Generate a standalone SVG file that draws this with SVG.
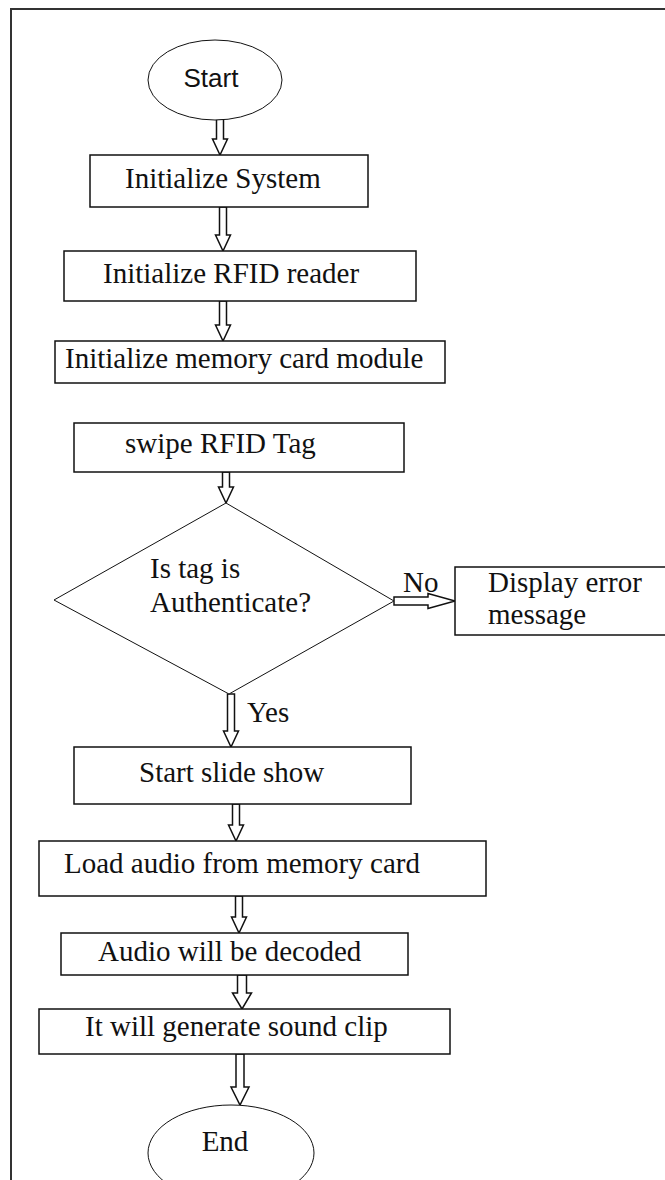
<svg xmlns="http://www.w3.org/2000/svg" width="665" height="1180" viewBox="0 0 665 1180">
<style>
.bg{fill:#fff}
.frame{fill:none;stroke:#333;stroke-width:2}
.box{fill:#fff;stroke:#111;stroke-width:1.5}
.thin{fill:#fff;stroke:#111;stroke-width:1}
.arr{fill:#fff;stroke:#111;stroke-width:1.5;stroke-linejoin:miter}
.t{font-family:"Liberation Serif","Times New Roman",serif;font-size:29px;fill:#111}
.s{font-family:"Liberation Sans",Arial,sans-serif;font-size:26px;fill:#111}
</style>
<rect class="bg" x="0" y="0" width="665" height="1180"/>
<path class="frame" d="M11,1180 V9 H665"/>
<g id="connectors">
<path class="arr" d="M216.5,119 V139 H212.5 L220,155 L227.5,139 H223.5 V119 Z"/>
<path class="arr" d="M219.5,207 V235 H215.5 L223,251 L230.5,235 H226.5 V207 Z"/>
<path class="arr" d="M219.5,301 V325 H215.5 L223,341 L230.5,325 H226.5 V301 Z"/>
<path class="arr" d="M222.5,472 V487 H218.5 L226,503 L233.5,487 H229.5 V472 Z"/>
<path class="arr" d="M394,597 H428 V593.5 L455,601 L428,608.5 V605 H394 Z"/>
<text class="t" x="403" y="592">No</text>
<path class="arr" d="M227.5,694 V731 H223.5 L231,747 L238.5,731 H234.5 V694 Z"/>
<text class="t" x="247" y="722">Yes</text>
<path class="arr" d="M232.5,804 V825 H228.5 L236,841 L243.5,825 H239.5 V804 Z"/>
<path class="arr" d="M235.5,896 V917 H231.5 L239,933 L246.5,917 H242.5 V896 Z"/>
<path class="arr" d="M237.5,975 V993 H232.5 L242,1009 L251.5,993 H246.5 V975 Z"/>
<path class="arr" d="M236,1054 V1087 H231 L240,1105 L249,1087 H244 V1054 Z"/>
</g>
<g id="start">
<ellipse class="thin" cx="215" cy="80" rx="67" ry="40"/>
<text class="s" x="211" y="87" text-anchor="middle">Start</text>
</g>
<g id="init-system">
<rect class="box" x="90" y="155" width="278" height="52"/>
<text class="t" x="125" y="188">Initialize System</text>
</g>
<g id="init-rfid">
<rect class="box" x="64" y="251" width="352" height="50"/>
<text class="t" x="103" y="283">Initialize RFID reader</text>
</g>
<g id="init-memory">
<rect class="box" x="55" y="341" width="390" height="42"/>
<text class="t" x="65" y="368">Initialize memory card module</text>
</g>
<g id="swipe">
<rect class="box" x="74" y="423" width="330" height="49"/>
<text class="t" x="125" y="453">swipe RFID Tag</text>
</g>
<g id="decision">
<polygon class="thin" points="226,503 394,601 229,694 54,600"/>
<text class="t" x="150" y="578">Is tag is</text>
<text class="t" x="150" y="612">Authenticate?</text>
</g>
<g id="error">
<rect class="box" x="455" y="567" width="212" height="68"/>
<text class="t" x="488" y="592">Display error</text>
<text class="t" x="488" y="624">message</text>
</g>
<g id="slideshow">
<rect class="box" x="74" y="747" width="337" height="57"/>
<text class="t" x="139" y="782">Start slide show</text>
</g>
<g id="load-audio">
<rect class="box" x="39" y="841" width="447" height="55"/>
<text class="t" x="64" y="873">Load audio from memory card</text>
</g>
<g id="decode">
<rect class="box" x="61" y="933" width="347" height="42"/>
<text class="t" x="98" y="961">Audio will be decoded</text>
</g>
<g id="generate">
<rect class="box" x="39" y="1009" width="411" height="45"/>
<text class="t" x="85" y="1036">It will generate sound clip</text>
</g>
<g id="end">
<ellipse class="thin" cx="231" cy="1153" rx="83" ry="48"/>
<text class="t" x="225" y="1151" text-anchor="middle">End</text>
</g>
</svg>
